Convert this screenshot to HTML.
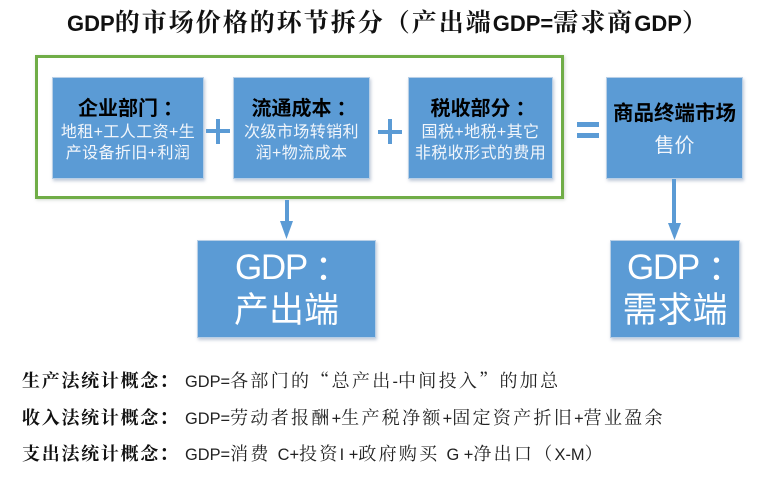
<!DOCTYPE html>
<html lang="zh"><head><meta charset="utf-8"><style>
html,body{margin:0;padding:0;background:#fff}
#c{position:relative;width:759px;height:503px;overflow:hidden;background:#fff;font-family:"Liberation Sans","Noto Sans CJK SC",sans-serif}
#c div{position:absolute;box-sizing:border-box}
.b{background:#5b9bd5;border:1px solid #b8cfe6;box-shadow:1px 2px 3px rgba(120,140,170,.45);color:#fff;text-align:center}
.t{white-space:nowrap;left:0;right:0;text-align:center}
.h{color:#000;font-weight:bold;font-size:20px;line-height:24px;top:17px}
.s{font-size:16px;line-height:22px;color:#f2f6fb;letter-spacing:.4px}
.co{font-family:"Noto Sans CJK TC",sans-serif}
.h .co{margin-left:5px;margin-right:-5px}
.ti{left:67px;top:5px;white-space:nowrap;line-height:32px;color:#111;font-family:"Noto Serif CJK SC",serif;font-size:25px;letter-spacing:2px;font-weight:bold}
.ti b{font-family:"Liberation Sans",sans-serif;font-size:22px;letter-spacing:0;font-weight:bold}
.l{left:22px;white-space:nowrap;font-family:"Noto Serif CJK SC",serif;line-height:24px;color:#222}
.l b{color:#111;font-weight:bold;font-size:18px;letter-spacing:1.700px;display:inline-block;width:163px}
.l b .co{letter-spacing:0}
.l span{font-size:18px;letter-spacing:2.300px}
.l i{font-style:normal;font-family:"Liberation Sans",sans-serif;font-size:16.400px;letter-spacing:0}
.g{font-size:35px;line-height:42px;color:#fff}
.gd{position:absolute;white-space:nowrap;letter-spacing:-1.300px;top:6px}
svg{position:absolute;left:0;top:0}
</style></head><body><div id="c">
<div class="ti"><b>GDP</b>的市场价格的环节拆分（产出端<b>GDP=</b>需求商<b>GDP</b>）</div>
<div style="left:35px;top:55px;width:529px;height:144px;border:3px solid #70ad47;box-shadow:1px 1px 3px rgba(120,140,120,.35)"></div>
<div class="b" style="left:52px;top:77px;width:152px;height:102px">
<div class="t h">企业部门<span class="co">：</span></div>
<div class="t s" style="top:44px">地租+工人工资+生</div>
<div class="t s" style="top:65px">产设备折旧+利润</div></div>
<div class="b" style="left:233px;top:77px;width:137px;height:102px">
<div class="t h">流通成本<span class="co">：</span></div>
<div class="t s" style="top:44px">次级市场转销利</div>
<div class="t s" style="top:65px">润+物流成本</div></div>
<div class="b" style="left:408px;top:77px;width:145px;height:102px">
<div class="t h">税收部分<span class="co">：</span></div>
<div class="t s" style="top:44px">国税+地税+其它</div>
<div class="t s" style="top:65px">非税收形式的费用</div></div>
<div class="b" style="left:606px;top:77px;width:137px;height:102px">
<div class="t h" style="top:24px;font-size:20.500px">商品终端市场</div>
<div class="t" style="top:54px;font-size:20px;line-height:28px;color:#f2f6fb">售价</div></div>
<div class="b" style="left:197px;top:240px;width:179px;height:98px">
<div class="g gd" style="left:37px">GDP</div><div class="g gd co" style="left:108px">：</div>
<div class="t g" style="top:49px">产出端</div></div>
<div class="b" style="left:610px;top:240px;width:130px;height:98px">
<div class="g gd" style="left:16px">GDP</div><div class="g gd co" style="left:88px">：</div>
<div class="t g" style="top:49px">需求端</div></div>
<svg width="759" height="503" viewBox="0 0 759 503">
<g fill="#5b9bd5">
<rect x="206" y="129" width="24" height="4"/><rect x="216" y="119" width="4" height="25"/>
<rect x="378" y="130" width="24" height="4"/><rect x="388" y="119" width="4" height="25"/>
<rect x="577" y="122" width="22" height="5"/><rect x="577" y="133" width="22" height="5"/>
<rect x="285" y="200" width="4" height="22"/><path d="M280 221H293L286.500 239Z"/>
<rect x="672" y="179" width="4" height="45"/><path d="M668 223H681L674.500 240Z"/>
</g></svg>
<div class="l" style="top:368px"><b>生产法统计概念<span class="co">：</span></b><span><i>GDP=</i>各部门的“总产出<i>-</i>中间投入”的加总</span></div>
<div class="l" style="top:405px"><b>收入法统计概念<span class="co">：</span></b><span><i>GDP=</i>劳动者报酬<i>+</i>生产税净额<i>+</i>固定资产折旧<i>+</i>营业盈余</span></div>
<div class="l" style="top:441px"><b>支出法统计概念<span class="co">：</span></b><span><i>GDP=</i>消费 <i>C+</i>投资<i>I +</i>政府购买 <i>G +</i>净出口（<i>X-M</i>）</span></div>
</div></body></html>
